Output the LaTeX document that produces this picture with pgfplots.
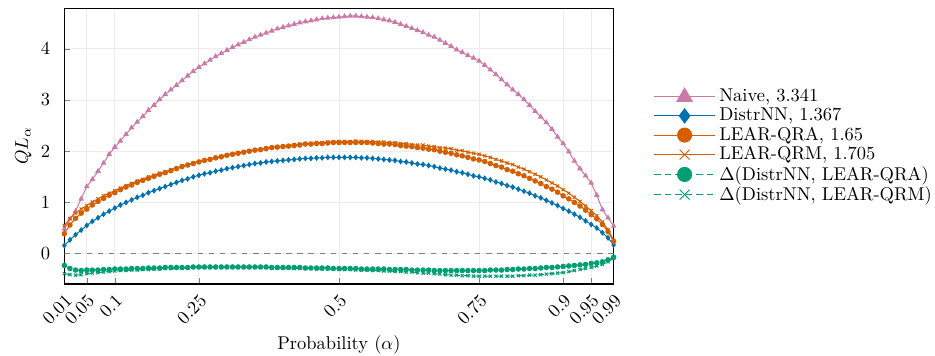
\documentclass[border=0pt]{standalone}
\usepackage{pgfplots}
\usepackage{pgfplotstable}
\pgfplotsset{compat=1.18}
\definecolor{cpink}{HTML}{CC79A7}
\definecolor{cblue}{HTML}{0072B2}
\definecolor{corange}{HTML}{D55E00}
\definecolor{cgreen}{HTML}{009E73}

\pgfplotstableread{
a naive distr qra qrm dqra dqrm
0.01 0.48 0.16 0.39 0.55 -0.23 -0.39
0.02 0.68 0.27 0.56 0.68 -0.29 -0.41
0.03 0.83 0.37 0.69 0.79 -0.32 -0.42
0.04 1.07 0.46 0.79 0.87 -0.33 -0.41
0.05 1.31 0.55 0.87 0.94 -0.32 -0.39
0.06 1.45 0.63 0.95 1.01 -0.32 -0.38
0.07 1.61 0.70 1.02 1.07 -0.32 -0.37
0.08 1.77 0.77 1.08 1.13 -0.31 -0.36
0.09 1.94 0.83 1.14 1.18 -0.31 -0.35
0.10 2.08 0.89 1.19 1.23 -0.30 -0.34
0.11 2.20 0.95 1.25 1.28 -0.30 -0.33
0.12 2.33 1.00 1.30 1.33 -0.30 -0.33
0.13 2.46 1.05 1.34 1.37 -0.29 -0.32
0.14 2.57 1.10 1.39 1.42 -0.29 -0.32
0.15 2.68 1.14 1.43 1.45 -0.29 -0.31
0.16 2.80 1.19 1.47 1.50 -0.28 -0.31
0.17 2.90 1.23 1.51 1.53 -0.28 -0.30
0.18 3.01 1.27 1.55 1.57 -0.28 -0.30
0.19 3.11 1.31 1.58 1.60 -0.27 -0.29
0.20 3.20 1.35 1.62 1.64 -0.27 -0.29
0.21 3.29 1.39 1.66 1.67 -0.27 -0.28
0.22 3.38 1.43 1.70 1.71 -0.27 -0.28
0.23 3.47 1.46 1.73 1.74 -0.27 -0.28
0.24 3.56 1.50 1.76 1.77 -0.26 -0.27
0.25 3.64 1.53 1.79 1.80 -0.26 -0.27
0.26 3.71 1.56 1.82 1.83 -0.26 -0.27
0.27 3.78 1.58 1.84 1.85 -0.26 -0.27
0.28 3.85 1.61 1.87 1.88 -0.26 -0.27
0.29 3.91 1.63 1.89 1.90 -0.26 -0.27
0.30 3.97 1.66 1.92 1.93 -0.26 -0.27
0.31 4.03 1.68 1.94 1.95 -0.26 -0.27
0.32 4.08 1.70 1.96 1.97 -0.26 -0.27
0.33 4.13 1.72 1.98 1.99 -0.26 -0.27
0.34 4.18 1.74 2.00 2.01 -0.26 -0.27
0.35 4.23 1.76 2.02 2.03 -0.26 -0.27
0.36 4.27 1.77 2.03 2.04 -0.26 -0.27
0.37 4.31 1.79 2.05 2.06 -0.26 -0.27
0.38 4.35 1.80 2.07 2.08 -0.27 -0.28
0.39 4.39 1.81 2.08 2.09 -0.27 -0.28
0.40 4.42 1.82 2.09 2.10 -0.27 -0.28
0.41 4.45 1.83 2.10 2.11 -0.27 -0.28
0.42 4.48 1.84 2.11 2.13 -0.27 -0.29
0.43 4.51 1.85 2.12 2.14 -0.27 -0.29
0.44 4.53 1.86 2.14 2.15 -0.28 -0.29
0.45 4.55 1.86 2.14 2.15 -0.28 -0.29
0.46 4.57 1.87 2.15 2.17 -0.28 -0.30
0.47 4.59 1.87 2.15 2.17 -0.28 -0.30
0.48 4.60 1.88 2.16 2.18 -0.28 -0.30
0.49 4.61 1.88 2.17 2.18 -0.29 -0.30
0.50 4.62 1.88 2.17 2.19 -0.29 -0.31
0.51 4.63 1.88 2.17 2.19 -0.29 -0.31
0.52 4.64 1.88 2.17 2.19 -0.29 -0.31
0.53 4.64 1.88 2.17 2.20 -0.29 -0.32
0.54 4.63 1.87 2.17 2.19 -0.30 -0.32
0.55 4.62 1.87 2.17 2.19 -0.30 -0.32
0.56 4.61 1.86 2.16 2.19 -0.30 -0.33
0.57 4.59 1.85 2.15 2.18 -0.30 -0.33
0.58 4.57 1.84 2.14 2.18 -0.30 -0.34
0.59 4.55 1.83 2.14 2.17 -0.31 -0.34
0.60 4.52 1.82 2.13 2.17 -0.31 -0.35
0.61 4.48 1.80 2.11 2.15 -0.31 -0.35
0.62 4.44 1.79 2.10 2.15 -0.31 -0.36
0.63 4.40 1.77 2.09 2.13 -0.32 -0.36
0.64 4.36 1.75 2.07 2.12 -0.32 -0.37
0.65 4.32 1.74 2.06 2.12 -0.32 -0.38
0.66 4.27 1.72 2.04 2.10 -0.32 -0.38
0.67 4.23 1.70 2.03 2.09 -0.33 -0.39
0.68 4.17 1.67 2.00 2.07 -0.33 -0.40
0.69 4.11 1.65 1.98 2.06 -0.33 -0.41
0.70 4.05 1.63 1.96 2.05 -0.33 -0.42
0.71 3.98 1.60 1.93 2.02 -0.33 -0.42
0.72 3.93 1.58 1.91 2.01 -0.33 -0.43
0.73 3.87 1.55 1.88 1.98 -0.33 -0.43
0.74 3.82 1.52 1.85 1.96 -0.33 -0.44
0.75 3.76 1.50 1.83 1.94 -0.33 -0.44
0.76 3.68 1.47 1.80 1.91 -0.33 -0.44
0.77 3.59 1.44 1.76 1.88 -0.32 -0.44
0.78 3.50 1.40 1.72 1.84 -0.32 -0.44
0.79 3.40 1.37 1.69 1.81 -0.32 -0.44
0.80 3.30 1.33 1.64 1.77 -0.31 -0.44
0.81 3.20 1.30 1.61 1.74 -0.31 -0.44
0.82 3.11 1.26 1.56 1.69 -0.30 -0.43
0.83 3.01 1.22 1.52 1.65 -0.30 -0.43
0.84 2.90 1.18 1.47 1.60 -0.29 -0.42
0.85 2.78 1.13 1.42 1.55 -0.29 -0.42
0.86 2.67 1.09 1.37 1.50 -0.28 -0.41
0.87 2.56 1.04 1.31 1.44 -0.27 -0.40
0.88 2.43 0.99 1.26 1.38 -0.27 -0.39
0.89 2.28 0.94 1.20 1.32 -0.26 -0.38
0.90 2.15 0.88 1.13 1.25 -0.25 -0.37
0.91 1.99 0.83 1.07 1.18 -0.24 -0.35
0.92 1.81 0.77 1.00 1.10 -0.23 -0.33
0.93 1.66 0.71 0.93 1.02 -0.22 -0.31
0.94 1.52 0.64 0.85 0.93 -0.21 -0.29
0.95 1.38 0.57 0.76 0.84 -0.19 -0.27
0.96 1.14 0.50 0.68 0.74 -0.18 -0.24
0.97 0.86 0.41 0.57 0.62 -0.16 -0.21
0.98 0.70 0.31 0.43 0.47 -0.12 -0.16
0.99 0.54 0.17 0.24 0.26 -0.07 -0.09
}\datatable

\begin{document}
\begin{tikzpicture}
\begin{axis}[
  scale only axis,
  width=297pt, height=149pt,
  xmin=0.01, xmax=0.99, ymin=-0.59, ymax=4.79,
  xtick={0.01,0.05,0.1,0.25,0.5,0.75,0.9,0.95,0.99},
  xticklabels={0.01,0.05,0.1,0.25,0.5,0.75,0.9,0.95,0.99},
  xticklabel style={rotate=45, anchor=north east, inner sep=1pt},
  xticklabel shift=3.5pt,
  yticklabel shift=4.2pt,
  ytick={0,1,2,3,4},
  tick pos=left,
  tick align=inside,
  major tick length=3.2pt,
  axis line style={line width=0.75pt},
  grid=major,
  grid style={gray!15, line width=0.4pt},
  xlabel={Probability ($\alpha$)},
  ylabel={$QL_\alpha$},
  xlabel style={at={(axis description cs:0.5,0)}, anchor=north, yshift=-24.6pt},
  ylabel style={at={(axis description cs:-0.048,0.5)}, anchor=south},
  legend style={at={(1.062,0.5)}, anchor=west, draw=none, fill=none, row sep=-2.1pt},
  legend cell align=left,
  legend image code/.code={\draw[mark repeat=2,mark phase=2,#1,mark size=3.8pt] plot coordinates {(0cm,0cm) (0.58cm,0cm) (1.16cm,0cm)};},
  every axis plot/.append style={line width=0.55pt, mark size=1.2pt},
]
\addplot[gray, dashed, line width=0.6pt, forget plot] coordinates {(0.01,0) (0.99,0)};
\addplot[cpink, mark=triangle*, mark size=1.0pt, mark options={fill=cpink, scale=1.25}] table[x=a, y=naive] {\datatable};
\addlegendentry{Naive, 3.341}
\addplot[cblue, mark=diamond*, mark options={fill=cblue}] table[x=a, y=distr] {\datatable};
\addlegendentry{DistrNN, 1.367}
\addplot[corange, mark=*, mark options={fill=corange}] table[x=a, y=qra] {\datatable};
\addlegendentry{LEAR-QRA, 1.65}
\addplot[corange, mark=x] table[x=a, y=qrm] {\datatable};
\addlegendentry{LEAR-QRM, 1.705}
\addplot[cgreen, dash pattern=on 3.5pt off 2.2pt, mark=*, mark options={solid, fill=cgreen}] table[x=a, y=dqra] {\datatable};
\addlegendentry{$\Delta$(DistrNN, LEAR-QRA)}
\addplot[cgreen, dash pattern=on 3.5pt off 2.2pt, mark=x, mark options={solid}] table[x=a, y=dqrm] {\datatable};
\addlegendentry{$\Delta$(DistrNN, LEAR-QRM)}
\end{axis}
\pgfresetboundingbox
\path[use as bounding box] ([xshift=-34.8pt, yshift=-38.8pt]current axis.south west) rectangle ([xshift=173.8pt, yshift=4.5pt]current axis.north east);
\end{tikzpicture}
\end{document}
